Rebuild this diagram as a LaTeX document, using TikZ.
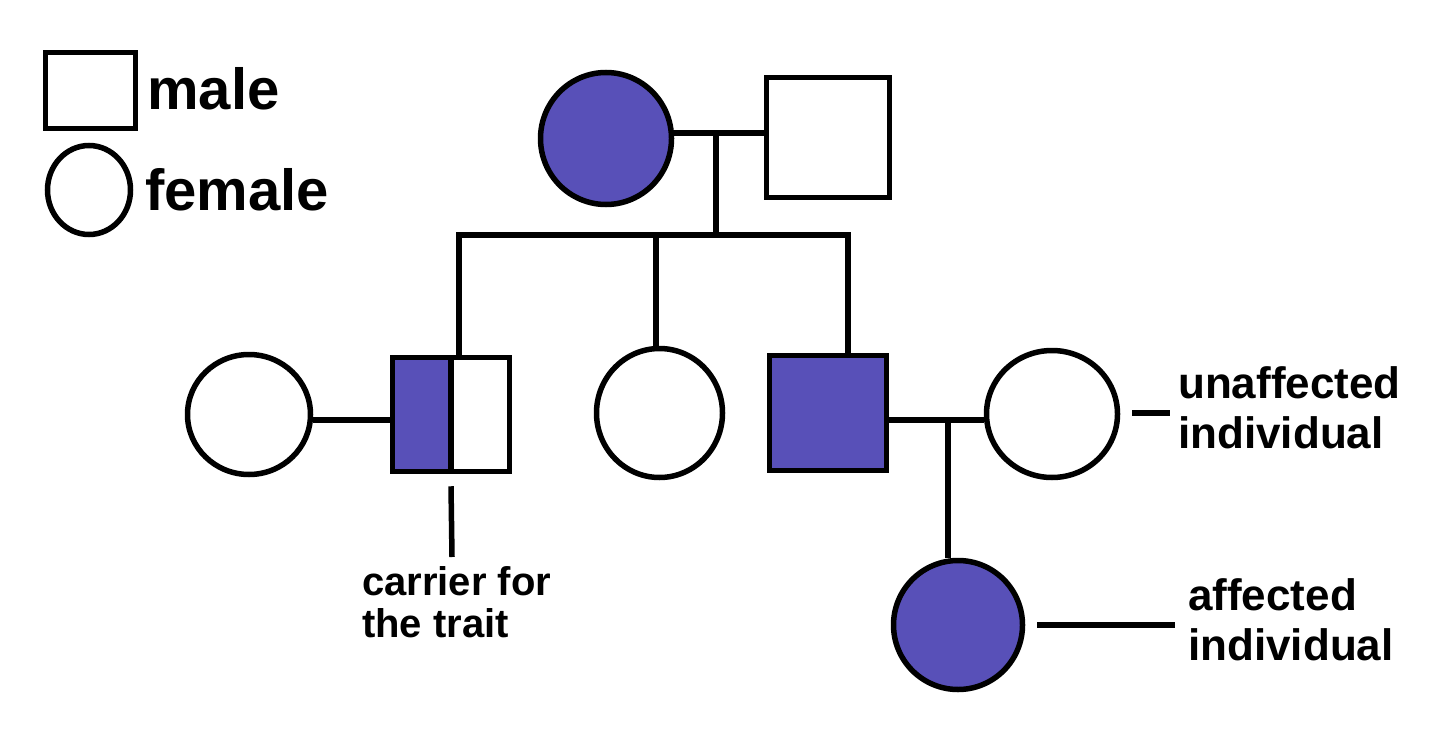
\documentclass[tikz,border=0pt]{standalone}
\usepackage{fontspec}
\setmainfont{Liberation Sans}
\usetikzlibrary{shapes.geometric,calc}
\definecolor{aff}{RGB}{88,80,184}
\begin{document}
\begin{tikzpicture}[x=1pt,y=-1pt,
  lw/.style={line width=5.5pt},
  fem/.style={ellipse,draw,lw,inner sep=0pt},
  mal/.style={rectangle,draw,lw,inner sep=0pt},
  filled/.style={fill=aff},
  big/.style={font=\fontsize{58}{62}\selectfont\bfseries,inner sep=0pt,anchor=base west},
  lab/.style={font=\fontsize{44}{50}\selectfont\bfseries,inner sep=0pt,anchor=base west,align=left},
  small/.style={font=\fontsize{40}{42}\selectfont\bfseries,inner sep=0pt,anchor=base west,align=left}]
\useasboundingbox[fill=white] (0,0) rectangle (1456,741);
% legend
\node[mal,minimum width=90pt,minimum height=76pt] (lm) at (90.5,90.5) {};
\node[big] (lmt) at (147,110) {male};
\node[fem,minimum width=83pt,minimum height=89pt] (lf) at (89,190) {};
\node[big] (lft) at (145,210) {female};
% generation 1
\node[fem,filled,minimum width=131pt,minimum height=132pt] (c1) at (606,138.5) {};
\node[mal,minimum width=123pt,minimum height=120pt] (s1) at (828,137.5) {};
% generation 2
\node[fem,minimum width=123pt,minimum height=120pt] (a2) at (249,414.5) {};
\node[mal,minimum width=117pt,minimum height=114pt,
  path picture={\fill[aff] (path picture bounding box.south west) rectangle (path picture bounding box.north);}] (b2) at (451,414.5) {};
\node[fem,minimum width=126pt,minimum height=129pt] (c2) at (659.5,413) {};
\node[mal,filled,minimum width=117pt,minimum height=115pt] (d2) at (828,413) {};
\node[fem,minimum width=131pt,minimum height=127pt] (e2) at (1052,414) {};
% generation 3
\node[fem,filled,minimum width=129pt,minimum height=129pt] (f3) at (958,625) {};
% divider of carrier square
\draw[lw] (b2.north) -- (b2.south);
% couple and sibship lines
\coordinate (m1) at (716,133);
\coordinate (sibL) at (459,235);
\coordinate (sibM) at (716,235);
\coordinate (sibR) at (848,235);
\draw[lw] (c1.east |- m1) -- (s1.west |- m1);
\draw[lw] (m1) -- (sibM);
\draw[lw,line cap=rect] (sibL |- b2.north) -- (sibL) -- (sibR) -- (sibR |- d2.north);
\draw[lw] (656,235) -- (656,350);
\coordinate (m2) at (948,420);
\draw[lw] (a2.east |- 0,420) -- (b2.west |- 0,420);
\draw[lw] (d2.east |- m2) -- (e2.west |- m2);
\draw[lw] (m2) -- (m2 |- f3.north);
% labels
\node[small] (carr) at (362,637) {carrier for\\the trait};
\coordinate (cp) at (452,557);
\draw[lw] ([yshift=-12pt]b2.south) -- (cp);
\node[lab] (unaff) at (1178,448) {unaffected\\individual};
\coordinate (up) at (1132,413);
\draw[lw] (up) -- (1170,413);
\node[lab] (affl) at (1188,660) {affected\\individual};
\coordinate (ap) at (1175,625);
\draw[lw] ([xshift=12pt]f3.east) -- (ap);
\end{tikzpicture}
\end{document}
